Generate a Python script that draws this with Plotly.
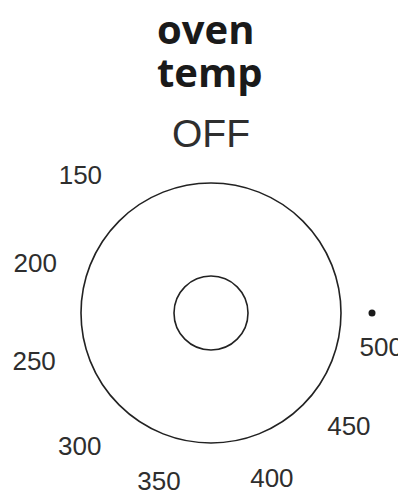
import numpy as np
import plotly.graph_objects as go

# Dial data
dial_labels = ["OFF", "150", "200", "250", "300", "350", "400", "450", "500"]
dial_angles = [90, 134, 165, 196, 226, 253, 290, 320, 348]  # degrees, counter-clockwise from east
pointer_angle = [0]
title_lines = ["oven", "temp"]

# Layout constants (page pixels)
PAGE_OFFSET = 8            # browser body margin
W, H = 406 - PAGE_OFFSET, 501 - PAGE_OFFSET
cx, cy = 211, 313          # dial centre
R_outer, R_inner = 130, 37
label_radius = [176, 188, 182, 184, 189, 178, 178, 180, 174]
R_dot = 161

def to_xy(angle_deg, r):
    a = np.deg2rad(np.asarray(angle_deg, dtype=float))
    return r * np.cos(a), r * np.sin(a)

lx, ly = to_xy(dial_angles, np.array(label_radius, dtype=float))
sizes = [39] + [26] * (len(dial_labels) - 1)

fig = go.Figure()
fig.add_trace(go.Scatter(
    x=lx, y=ly, mode="text", text=dial_labels, cliponaxis=False,
    textfont=dict(family="Liberation Sans, Arial, sans-serif", size=sizes, color="#2e2e2e"),
    hoverinfo="skip", showlegend=False))

dx, dy = to_xy(pointer_angle, R_dot)
fig.add_trace(go.Scatter(
    x=dx, y=dy, mode="markers", marker=dict(size=7, color="#1a1a1a"), cliponaxis=False,
    hoverinfo="skip", showlegend=False))

for r in (R_outer, R_inner):
    fig.add_shape(type="circle", xref="x", yref="y", x0=-r, y0=-r, x1=r, y1=r,
                  line=dict(color="#222222", width=1.6), fillcolor="rgba(0,0,0,0)")

title_page_y = [28, 71]
title_page_x = [205, 210]
for t, px, py in zip(title_lines, title_page_x, title_page_y):
    fig.add_annotation(x=px - cx, y=cy - py, xref="x", yref="y", text="<b>%s</b>" % t,
                       showarrow=False,
                       font=dict(family="Open Sans, sans-serif", size=40, color="#1a1a1a"),
                       yanchor="middle", xanchor="center")

fig.update_layout(
    width=W, height=H, margin=dict(l=0, r=0, t=0, b=0),
    paper_bgcolor="white", plot_bgcolor="white",
    xaxis=dict(range=[-(cx - PAGE_OFFSET), 406 - cx], visible=False, fixedrange=True),
    yaxis=dict(range=[-(501 - cy), cy - PAGE_OFFSET], visible=False, fixedrange=True),
)
fig.write_html("out.html")
